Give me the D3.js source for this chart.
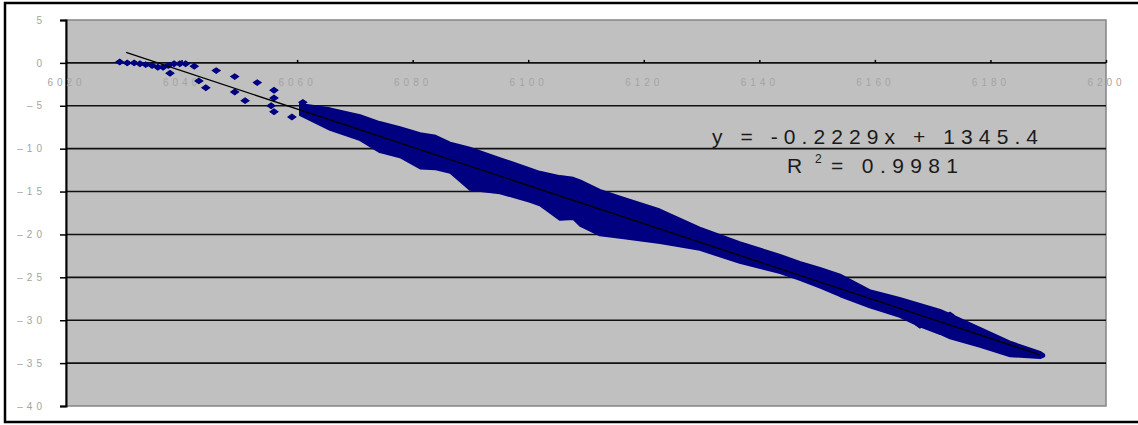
<!DOCTYPE html>
<html>
<head>
<meta charset="utf-8">
<script src="https://cdn.jsdelivr.net/npm/d3@7"></script>
<style>
    body { margin: 0; background: #fff; }
    svg { display: block; font-family: 'Liberation Sans', Arial, sans-serif; }
    .tick-label { fill: #a4a4a4; font-size: 10px; letter-spacing: 4px; }
</style>
</head>
<body>
<svg id="chart" width="1138" height="425"></svg>
<script>
// axis ticks
const xTicks = [6020, 6040, 6060, 6080, 6100, 6120, 6140, 6160, 6180, 6200];
const yTicks = [5, 0, -5, -10, -15, -20, -25, -30, -35, -40];

// dense band of observations, read as upper / lower envelope
const bandX = [6060.5, 6065.7, 6070.9, 6074.3, 6077.8, 6081.3, 6084.0, 6086.5, 6089.9, 6095.1, 6100.3,
    6102.0, 6105.5, 6107.8, 6109.0, 6112.4, 6115.9, 6122.8, 6129.7, 6136.6, 6143.6, 6147.0,
    6150.5, 6154.0, 6159.1, 6164.3, 6167.8, 6171.3, 6173.0, 6178.2, 6183.4, 6188.6, 6189.3];
const bandUpper = [-4.8, -5.3, -6.1, -6.9, -7.5, -8.2, -8.5, -9.3, -9.9, -11.1, -12.3,
    -12.7, -13.2, -13.4, -13.7, -14.8, -15.6, -17.1, -19.2, -20.9, -22.4, -23.2,
    -23.9, -24.7, -26.5, -27.4, -28.1, -28.8, -29.3, -30.9, -32.5, -33.7, -34.0];
const bandLower = [-6.1, -7.8, -9.0, -10.4, -11.0, -12.3, -12.4, -12.8, -14.8, -15.2, -16.2,
    -16.6, -18.3, -18.2, -19.0, -20.1, -20.4, -21.0, -21.8, -23.3, -24.5, -25.3,
    -26.2, -27.2, -28.5, -29.6, -30.7, -31.6, -32.1, -33.1, -34.2, -34.4, -34.2];

// sparse points at the start and stray points along the band
const pointX = [6029.3, 6030.6, 6031.8, 6032.8, 6033.8, 6034.9, 6035.9, 6036.8, 6037.7, 6038.7,
    6039.7, 6040.7, 6042.2, 6038.0, 6046.0, 6043.0, 6044.2, 6049.2, 6053.1, 6049.2,
    6051.0, 6056.0, 6056.0, 6055.5, 6056.0, 6059.1, 6061.0, 6173.0, 6167.8];
const pointY = [0.1, 0.0, 0.0, -0.1, -0.2, -0.3, -0.5, -0.5, -0.3, -0.1,
    -0.1, -0.1, -0.4, -1.2, -0.9, -2.1, -2.9, -1.6, -2.3, -3.4,
    -4.4, -3.2, -4.1, -5.0, -5.7, -6.3, -4.6, -29.4, -30.6];

// linear trendline
const slope = -0.2229;
const intercept = 1345.4;
const trendRange = [6030.4, 6188.6];
const equationText = 'y = -0.2229x + 1345.4';
const r2Text = '0.9981';

const svg = d3.select('#chart');
const plotLeft = 66, plotRight = 1106, plotTop = 20, plotBottom = 406;

const x = d3.scaleLinear().domain([6020, 6200]).range([plotLeft, plotRight]);
const y = d3.scaleLinear().domain([-40, 5]).range([plotBottom, plotTop]);

// outer frame
svg.append('rect')
    .attr('x', 5).attr('y', 3).attr('width', 1145).attr('height', 419)
    .attr('fill', '#fff').attr('stroke', '#000').attr('stroke-width', 2.5);

// plot area
svg.append('rect')
    .attr('x', plotLeft).attr('y', plotTop)
    .attr('width', plotRight - plotLeft).attr('height', plotBottom - plotTop)
    .attr('fill', '#c0c0c0').attr('stroke', '#858585').attr('stroke-width', 1.5);

// gridlines
svg.append('g')
    .selectAll('line')
    .data(yTicks.filter(v => v < 5 && v > -40))
    .join('line')
    .attr('x1', plotLeft).attr('x2', plotRight)
    .attr('y1', d => y(d)).attr('y2', d => y(d))
    .attr('stroke', '#111').attr('stroke-width', 1.6);

// y axis
const yAxis = svg.append('g').attr('transform', `translate(${plotLeft}, 0)`)
    .call(d3.axisLeft(y).tickValues(yTicks).tickSize(6).tickPadding(14).tickFormat(d3.format('d')));
yAxis.select('.domain').attr('stroke', '#000').attr('stroke-width', 2);
yAxis.selectAll('.tick line').attr('stroke', '#000').attr('stroke-width', 1.5);
yAxis.selectAll('.tick text')
    .attr('class', 'tick-label')
    .style('font-family', 'inherit')
    .text(d => String(d).replace('-', '\u2013'));

// x axis sits on y = 0, ticks pointing up, labels below
const xAxis = svg.append('g').attr('transform', `translate(0, ${y(0)})`)
    .call(d3.axisTop(x).tickValues(xTicks).tickSize(3).tickFormat(d3.format('d')));
xAxis.select('.domain').remove();
xAxis.selectAll('.tick line').attr('stroke', '#000').attr('stroke-width', 1.5);
xAxis.selectAll('.tick text')
    .attr('class', 'tick-label')
    .style('font-family', 'inherit')
    .attr('text-anchor', 'middle')
    .attr('y', 23)
    .attr('dy', null);

// data band
const area = d3.area()
    .x((d, i) => x(bandX[i]))
    .y0((d, i) => y(bandLower[i]))
    .y1((d, i) => y(bandUpper[i]));

svg.append('path')
    .datum(bandX)
    .attr('d', area)
    .attr('fill', '#000080')
    .attr('stroke', '#000080')
    .attr('stroke-width', 2)
    .attr('stroke-linejoin', 'round');

// individual points
const diamond = d3.symbol().type(d3.symbolDiamond).size(30);
svg.append('g')
    .selectAll('path')
    .data(pointX)
    .join('path')
    .attr('transform', (d, i) => `translate(${x(d)}, ${y(pointY[i])}) scale(1.35, 0.55)`)
    .attr('d', diamond)
    .attr('fill', '#000080')
    .attr('stroke', '#000080')
    .attr('stroke-width', 1.2);

// trendline
svg.append('line')
    .attr('x1', x(trendRange[0])).attr('y1', y(slope * trendRange[0] + intercept))
    .attr('x2', x(trendRange[1])).attr('y2', y(slope * trendRange[1] + intercept))
    .attr('stroke', '#000').attr('stroke-width', 1.3);

// equation label
svg.append('text')
    .attr('x', 712).attr('y', 144)
    .attr('textLength', 326).attr('lengthAdjust', 'spacing')
    .attr('fill', '#1a1a1a').attr('font-size', 21)
    .text(equationText);

const r2 = svg.append('text')
    .attr('x', 787).attr('y', 173)
    .attr('fill', '#1a1a1a').attr('font-size', 21);
r2.append('tspan').text('R');
r2.append('tspan').attr('x', 815).attr('y', 163).attr('font-size', 12).text('2');
r2.append('tspan').attr('x', 831).attr('y', 173)
    .attr('textLength', 127).attr('lengthAdjust', 'spacing')
    .text('= ' + r2Text);
</script>
</body>
</html>
